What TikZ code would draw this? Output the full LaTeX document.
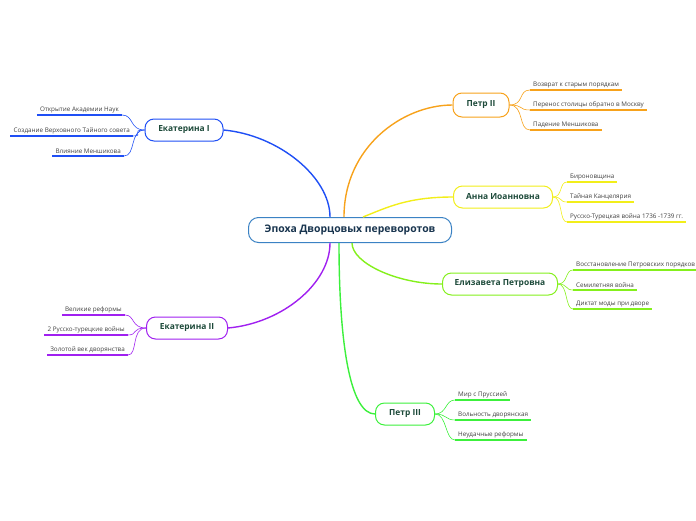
\documentclass[tikz,border=0pt]{standalone}
\usepackage{fontspec}
\setmainfont{Open Sans}
\usetikzlibrary{positioning}
\usepackage{xcolor}
\definecolor{rootc}{HTML}{3B82C4}
\definecolor{ekac}{HTML}{1F4FF5}
\definecolor{ekbc}{HTML}{A020F0}
\definecolor{ptac}{HTML}{F7A21B}
\definecolor{annc}{HTML}{F2EE1A}
\definecolor{elic}{HTML}{84F01C}
\definecolor{ptbc}{HTML}{3CF03C}
\definecolor{namec}{HTML}{1D4A3A}

\begin{document}
\begin{tikzpicture}[x=1pt, y=-1pt,
  root/.style={draw=rootc, line width=1pt, rounded corners=10pt, fill=white,
               minimum width=203pt, minimum height=25pt,
               font=\fontsize{10.4}{12}\selectfont\bfseries, text=rootc!40!black},
  branch/.style={draw=#1, line width=1pt, rounded corners=9pt, fill=white,
                 minimum height=22pt, inner xsep=6pt,
                 font=\fontsize{8.4}{10}\selectfont\bfseries, text=namec},
  leaf/.style={inner xsep=3pt, inner ysep=2pt, text=black!75,
               font=\fontsize{6.3}{7.5}\selectfont},
  uline/.style={draw=#1, line width=1.8pt},
  twig/.style={draw=#1, line width=0.6pt},
  limb/.style={draw=#1, line width=1.4pt}
]
\useasboundingbox (0,0) rectangle (696,520);

\node[root] (root) at (350,230) {Эпоха Дворцовых переворотов};

\node[branch=ekac, minimum width=78pt] (eka) at (184,130) {Екатерина I};
\node[branch=ekbc, minimum width=81pt] (ekb) at (187,328) {Екатерина II};
\node[branch=ptac, minimum width=56pt, minimum height=24pt] (pta) at (481,105) {Петр II};
\node[branch=annc, minimum width=99pt] (ann) at (503,197) {Анна Иоанновна};
\node[branch=elic, minimum width=115pt] (eli) at (500,284) {Елизавета Петровна};
\node[branch=ptbc, minimum width=59pt] (ptb) at (405,414) {Петр III};

% main connectors
\draw[limb=ekac] (eka.east) .. controls +(55,5) and +(0,-40) .. ([xshift=-20pt]root.north);
\draw[limb=ekbc] (ekb.east) .. controls +(55,-5) and +(0,40) .. ([xshift=-20pt]root.south);
\draw[limb=ptac] (pta.west) .. controls +(-50,0) and +(0,-70) .. ([xshift=-6pt]root.north);
\draw[limb=annc] (ann.west) .. controls +(-45,0) and +(25,-10) .. ([xshift=13pt]root.north);
\draw[limb=elic] (eli.west) .. controls +(-45,0) and +(0,20) .. ([xshift=2pt]root.south);
\draw[limb=ptbc] (ptb.west) .. controls +(-25,0) and +(0,100) .. ([xshift=-11pt]root.south);

% Екатерина I
\node[leaf, anchor=south east] (eka1) at (122,115) {Открытие Академии Наук};
\node[leaf, anchor=south east] (eka2) at (133,136) {Создание Верховного Тайного совета};
\node[leaf, anchor=south east] (eka3) at (124,156) {Влияние Меншикова};
\foreach \n in {eka1,eka2,eka3} {
  \draw[uline=ekac] (\n.south west) -- (\n.south east);
  \draw[twig=ekac] (eka.west) .. controls +(-15,0) and +(12,0) .. (\n.south east);
}

% Екатерина II
\node[leaf, anchor=south east] (ekb1) at (125,315) {Великие реформы};
\node[leaf, anchor=south east] (ekb2) at (128,335) {2 Русско-турецкие войны};
\node[leaf, anchor=south east] (ekb3) at (128,355) {Золотой век дворянства};
\foreach \n in {ekb1,ekb2,ekb3} {
  \draw[uline=ekbc] (\n.south west) -- (\n.south east);
  \draw[twig=ekbc] (ekb.west) .. controls +(-15,0) and +(10,0) .. (\n.south east);
}

% Петр II
\node[leaf, anchor=south west] (pta1) at (530,90) {Возврат к старым порядкам};
\node[leaf, anchor=south west] (pta2) at (530,110) {Перенос столицы обратно в Москву};
\node[leaf, anchor=south west] (pta3) at (530,130) {Падение Меншикова};
\foreach \n in {pta1,pta2,pta3} {
  \draw[uline=ptac] (\n.south west) -- (\n.south east);
  \draw[twig=ptac] (pta.east) .. controls +(15,0) and +(-12,0) .. (\n.south west);
}

% Анна Иоанновна
\node[leaf, anchor=south west] (ann1) at (567,182) {Бироновщина};
\node[leaf, anchor=south west] (ann2) at (567,202) {Тайная Канцелярия};
\node[leaf, anchor=south west] (ann3) at (567,222) {Русско-Турецкая война 1736 -1739 гг.};
\foreach \n in {ann1,ann2,ann3} {
  \draw[uline=annc] (\n.south west) -- (\n.south east);
  \draw[twig=annc] (ann.east) .. controls +(10,0) and +(-8,0) .. (\n.south west);
}

% Елизавета Петровна
\node[leaf, anchor=south west] (eli1) at (573,270) {Восстановление Петровских порядков};
\node[leaf, anchor=south west] (eli2) at (573,290) {Семилетняя война};
\node[leaf, anchor=south west] (eli3) at (573,309) {Диктат моды при дворе};
\foreach \n in {eli1,eli2,eli3} {
  \draw[uline=elic] (\n.south west) -- (\n.south east);
  \draw[twig=elic] (eli.east) .. controls +(10,0) and +(-8,0) .. (\n.south west);
}

% Петр III
\node[leaf, anchor=south west] (ptb1) at (455,400) {Мир с Пруссией};
\node[leaf, anchor=south west] (ptb2) at (455,420) {Вольность дворянская};
\node[leaf, anchor=south west] (ptb3) at (455,440) {Неудачные реформы};
\foreach \n in {ptb1,ptb2,ptb3} {
  \draw[uline=ptbc] (\n.south west) -- (\n.south east);
  \draw[twig=ptbc] (ptb.east) .. controls +(12,0) and +(-10,0) .. (\n.south west);
}
\end{tikzpicture}
\end{document}
